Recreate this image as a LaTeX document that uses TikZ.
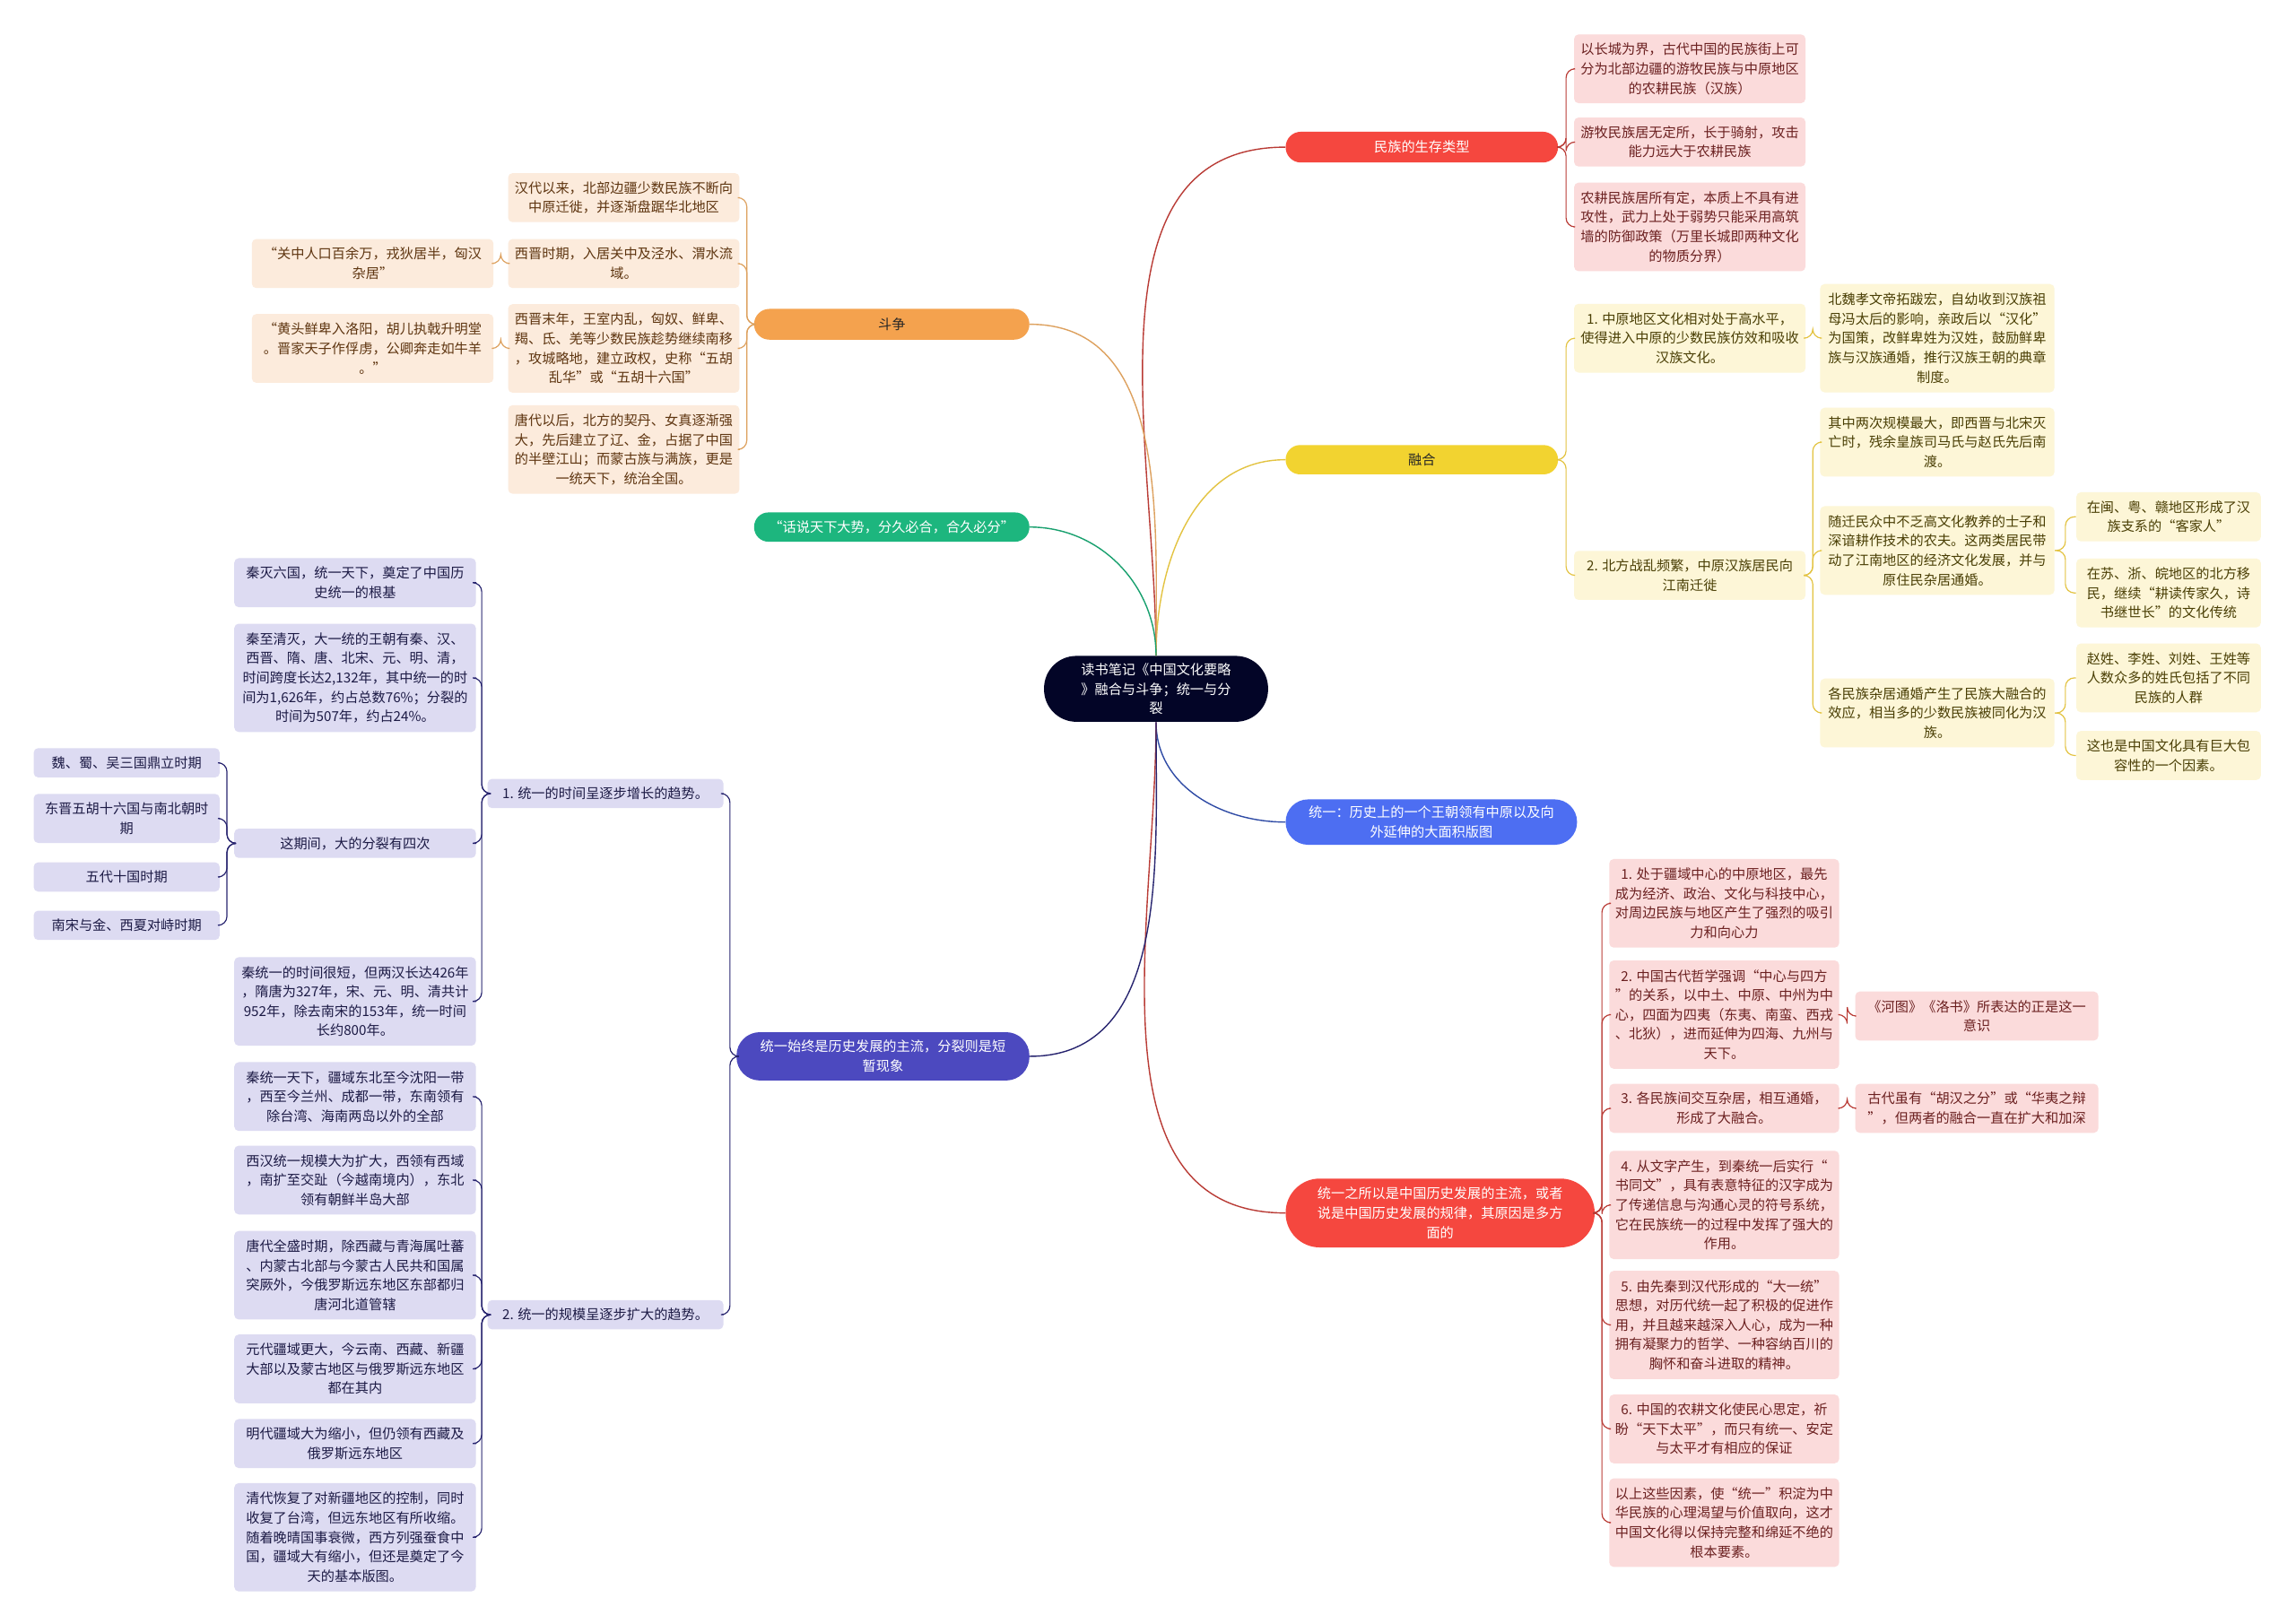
\documentclass[tikz,border=0pt]{standalone}
\usepackage{fontspec}
\setmainfont{Noto Sans CJK SC}
\usetikzlibrary{calc}
\definecolor{centralF}{HTML}{030527}
\definecolor{redM}{HTML}{F5473F}
\definecolor{redL}{HTML}{B93B35}
\definecolor{pinkF}{HTML}{FBDBDB}
\definecolor{pinkT}{HTML}{6B2020}
\definecolor{yelM}{HTML}{F2D330}
\definecolor{yelL}{HTML}{E3C341}
\definecolor{yelF}{HTML}{FDF6D7}
\definecolor{yelT}{HTML}{4A3F05}
\definecolor{orM}{HTML}{F4A24E}
\definecolor{orL}{HTML}{DDA15E}
\definecolor{orF}{HTML}{FCEBDC}
\definecolor{orT}{HTML}{5E3510}
\definecolor{grM}{HTML}{1DB67E}
\definecolor{grL}{HTML}{18A06E}
\definecolor{bluM}{HTML}{4D6EF2}
\definecolor{bluL}{HTML}{2F4BA5}
\definecolor{purM}{HTML}{4C49BF}
\definecolor{purL}{HTML}{27246F}
\definecolor{purF}{HTML}{DDDBF2}
\definecolor{purT}{HTML}{1C1A45}
% child box: style, name, x1, x2, cy, lines, text
\newcommand{\bx}[7]{\node[#1, minimum width={(#4-#3)*0.8163pt}, minimum height={(20+13.5*(#6-1))*0.8163pt}] (#2) at ({(#3+#4)/2},#5) {#7};}
% main node: style, name, x1, x2, y1, y2, corner radius, text
\newcommand{\mn}[8]{\node[#1, rounded corners=#7, minimum width={(#4-#3)*0.8163pt}, minimum height={(#6-#5)*0.8163pt}] (#2) at ({(#3+#4)/2},{(#5+#6)/2}) {#8};}
\newcommand{\linkR}[3]{\draw[sublink,#1] let \p1=(#2.east), \p2=(#3.west) in (\p1) -- ({(\x1+\x2)/2},\y1) |- (\p2);}
\newcommand{\linkL}[3]{\draw[sublink,#1] let \p1=(#2.west), \p2=(#3.east) in (\p1) -- ({(\x1+\x2)/2},\y1) |- (\p2);}
\begin{document}
\begin{tikzpicture}[x=0.8163pt,y=-0.8163pt,
  every node/.style={font=\fontsize{7.6}{10.8}\selectfont, align=center, inner sep=1.5pt},
  cbox/.style={rounded corners=2.5pt},
  pinkbox/.style={cbox, fill=pinkF, text=pinkT},
  yelbox/.style={cbox, fill=yelF, text=yelT},
  orbox/.style={cbox, fill=orF, text=orT},
  purbox/.style={cbox, fill=purF, text=purT},
  mainlink/.style={line width=0.7pt},
  sublink/.style={line width=0.6pt, rounded corners=5pt}]
\useasboundingbox (0,0) rectangle (1568,1109);
\fill[white] (0,0) rectangle (1568,1109);

% central
\mn{fill=centralF,text=white}{c}{713}{866}{448}{493}{18pt}{读书笔记《中国文化要略\\》融合与斗争；统一与分\\裂}

% main nodes
\mn{fill=redM,text=white}{r1}{878}{1064}{90}{111}{8.5pt}{民族的生存类型}
\mn{fill=yelM,text=black!85}{r2}{878}{1064}{304}{324}{8pt}{融合}
\mn{fill=bluM,text=white}{r3}{878}{1077}{546}{577}{12.5pt}{统一：历史上的一个王朝领有中原以及向\\外延伸的大面积版图}
\mn{fill=redM,text=white}{r4}{878}{1089}{805}{852}{19pt}{统一之所以是中国历史发展的主流，或者\\说是中国历史发展的规律，其原因是多方\\面的}
\mn{fill=orM,text=black!85}{l1}{515}{703}{211}{232}{8.5pt}{斗争}
\mn{fill=grM,text=white}{l2}{515}{703}{350}{370}{8pt}{“话说天下大势，分久必合，合久必分”}
\mn{fill=purM,text=white}{l3}{503}{703}{705}{738}{13pt}{统一始终是历史发展的主流，分裂则是短\\暂现象}

% r1 children
\bx{pinkbox}{r1a}{1075}{1233}{47}{3}{以长城为界，古代中国的民族街上可\\分为北部边疆的游牧民族与中原地区\\的农耕民族（汉族）}
\bx{pinkbox}{r1b}{1075}{1233}{97}{2}{游牧民族居无定所，长于骑射，攻击\\能力远大于农耕民族}
\bx{pinkbox}{r1c}{1075}{1233}{155}{4}{农耕民族居所有定，本质上不具有进\\攻性，武力上处于弱势只能采用高筑\\墙的防御政策（万里长城即两种文化\\的物质分界）}

% r2 children
\bx{yelbox}{r2a}{1075}{1233}{231}{3}{1. 中原地区文化相对处于高水平，\\使得进入中原的少数民族仿效和吸收\\汉族文化。}
\bx{yelbox}{r2b}{1075}{1233}{393}{2}{2. 北方战乱频繁，中原汉族居民向\\江南迁徙}
\bx{yelbox}{r2a1}{1243}{1403}{231}{5}{北魏孝文帝拓跋宏，自幼收到汉族祖\\母冯太后的影响，亲政后以“汉化”\\为国策，改鲜卑姓为汉姓，鼓励鲜卑\\族与汉族通婚，推行汉族王朝的典章\\制度。}
\bx{yelbox}{r2b1}{1243}{1403}{302}{3}{其中两次规模最大，即西晋与北宋灭\\亡时，残余皇族司马氏与赵氏先后南\\渡。}
\bx{yelbox}{r2b2}{1243}{1403}{376}{4}{随迁民众中不乏高文化教养的士子和\\深谙耕作技术的农夫。这两类居民带\\动了江南地区的经济文化发展，并与\\原住民杂居通婚。}
\bx{yelbox}{r2b3}{1243}{1403}{487}{3}{各民族杂居通婚产生了民族大融合的\\效应，相当多的少数民族被同化为汉\\族。}
\bx{yelbox}{r2b2a}{1418}{1544}{353}{2}{在闽、粤、赣地区形成了汉\\族支系的“客家人”}
\bx{yelbox}{r2b2b}{1418}{1544}{405}{3}{在苏、浙、皖地区的北方移\\民，继续“耕读传家久，诗\\书继世长”的文化传统}
\bx{yelbox}{r2b3a}{1418}{1544}{463}{3}{赵姓、李姓、刘姓、王姓等\\人数众多的姓氏包括了不同\\民族的人群}
\bx{yelbox}{r2b3b}{1418}{1544}{516}{2}{这也是中国文化具有巨大包\\容性的一个因素。}

% r4 children
\bx{pinkbox}{r4a}{1099}{1256}{617}{4}{1. 处于疆域中心的中原地区，最先\\成为经济、政治、文化与科技中心，\\对周边民族与地区产生了强烈的吸引\\力和向心力}
\bx{pinkbox}{r4b}{1099}{1256}{693}{5}{2. 中国古代哲学强调“中心与四方\\”的关系，以中土、中原、中州为中\\心，四面为四夷（东夷、南蛮、西戎\\、北狄），进而延伸为四海、九州与\\天下。}
\bx{pinkbox}{r4c}{1099}{1256}{757}{2}{3. 各民族间交互杂居，相互通婚，\\形成了大融合。}
\bx{pinkbox}{r4d}{1099}{1256}{823}{5}{4. 从文字产生，到秦统一后实行“\\书同文”，具有表意特征的汉字成为\\了传递信息与沟通心灵的符号系统，\\它在民族统一的过程中发挥了强大的\\作用。}
\bx{pinkbox}{r4e}{1099}{1256}{905}{5}{5. 由先秦到汉代形成的“大一统”\\思想，对历代统一起了积极的促进作\\用，并且越来越深入人心，成为一种\\拥有凝聚力的哲学、一种容纳百川的\\胸怀和奋斗进取的精神。}
\bx{pinkbox}{r4f}{1099}{1256}{976}{3}{6. 中国的农耕文化使民心思定，祈\\盼“天下太平”，而只有统一、安定\\与太平才有相应的保证}
\bx{pinkbox}{r4g}{1099}{1256}{1040}{4}{以上这些因素，使“统一”积淀为中\\华民族的心理渴望与价值取向，这才\\中国文化得以保持完整和绵延不绝的\\根本要素。}
\bx{pinkbox}{r4b1}{1267}{1433}{694}{2}{《河图》《洛书》所表达的正是这一\\意识}
\bx{pinkbox}{r4c1}{1267}{1433}{757}{2}{古代虽有“胡汉之分”或“华夷之辩\\”，但两者的融合一直在扩大和加深}

% l1 children
\bx{orbox}{l1a}{347}{505}{135}{2}{汉代以来，北部边疆少数民族不断向\\中原迁徙，并逐渐盘踞华北地区}
\bx{orbox}{l1b}{347}{505}{180}{2}{西晋时期，入居关中及泾水、渭水流\\域。}
\bx{orbox}{l1c}{347}{505}{238}{4}{西晋末年，王室内乱，匈奴、鲜卑、\\羯、氐、羌等少数民族趁势继续南移\\，攻城略地，建立政权，史称“五胡\\乱华”或“五胡十六国”}
\bx{orbox}{l1d}{347}{505}{307}{4}{唐代以后，北方的契丹、女真逐渐强\\大，先后建立了辽、金，占据了中国\\的半壁江山；而蒙古族与满族，更是\\一统天下，统治全国。}
\bx{orbox}{l1b1}{172}{337}{180}{2}{“关中人口百余万，戎狄居半，匈汉\\杂居”}
\bx{orbox}{l1c1}{172}{337}{238}{3}{“黄头鲜卑入洛阳，胡儿执戟升明堂\\。晋家天子作俘虏，公卿奔走如牛羊\\。”}

% l3 children
\bx{purbox}{l3a}{333}{494}{542}{1}{1. 统一的时间呈逐步增长的趋势。}
\bx{purbox}{l3b}{333}{494}{898}{1}{2. 统一的规模呈逐步扩大的趋势。}
\bx{purbox}{l3a1}{160}{325}{398}{2}{秦灭六国，统一天下，奠定了中国历\\史统一的根基}
\bx{purbox}{l3a2}{160}{325}{463}{5}{秦至清灭，大一统的王朝有秦、汉、\\西晋、隋、唐、北宋、元、明、清，\\时间跨度长达2,132年，其中统一的时\\间为1,626年，约占总数76\%；分裂的\\时间为507年，约占24\%。}
\bx{purbox}{l3a3}{160}{325}{576}{1}{这期间，大的分裂有四次}
\bx{purbox}{l3a4}{160}{325}{684}{4}{秦统一的时间很短，但两汉长达426年\\，隋唐为327年，宋、元、明、清共计\\952年，除去南宋的153年，统一时间\\长约800年。}
\bx{purbox}{w1}{23}{150}{521}{1}{魏、蜀、吴三国鼎立时期}
\bx{purbox}{w2}{23}{150}{559}{2}{东晋五胡十六国与南北朝时\\期}
\bx{purbox}{w3}{23}{150}{599}{1}{五代十国时期}
\bx{purbox}{w4}{23}{150}{632}{1}{南宋与金、西夏对峙时期}
\bx{purbox}{b1}{160}{325}{749}{3}{秦统一天下，疆域东北至今沈阳一带\\，西至今兰州、成都一带，东南领有\\除台湾、海南两岛以外的全部}
\bx{purbox}{b2}{160}{325}{806}{3}{西汉统一规模大为扩大，西领有西域\\，南扩至交趾（今越南境内），东北\\领有朝鲜半岛大部}
\bx{purbox}{b3}{160}{325}{871}{4}{唐代全盛时期，除西藏与青海属吐蕃\\、内蒙古北部与今蒙古人民共和国属\\突厥外，今俄罗斯远东地区东部都归\\唐河北道管辖}
\bx{purbox}{b4}{160}{325}{935}{3}{元代疆域更大，今云南、西藏、新疆\\大部以及蒙古地区与俄罗斯远东地区\\都在其内}
\bx{purbox}{b5}{160}{325}{986}{2}{明代疆域大为缩小，但仍领有西藏及\\俄罗斯远东地区}
\bx{purbox}{b6}{160}{325}{1050}{5}{清代恢复了对新疆地区的控制，同时\\收复了台湾，但远东地区有所收缩。\\随着晚晴国事衰微，西方列强蚕食中\\国，疆域大有缩小，但还是奠定了今\\天的基本版图。}

% central connectors
\draw[mainlink,redL] (c.north) to[out=90,in=180] (r1.west);
\draw[mainlink,yelL] (c.north) to[out=90,in=180] (r2.west);
\draw[mainlink,orL] (c.north) to[out=90,in=0] (l1.east);
\draw[mainlink,grL] (c.north) to[out=90,in=0] (l2.east);
\draw[mainlink,bluL] (c.south) to[out=270,in=180] (r3.west);
\draw[mainlink,redL] (c.south) to[out=270,in=180] (r4.west);
\draw[mainlink,purL] (c.south) to[out=270,in=0] (l3.east);

% sub connectors
\linkR{redL}{r1}{r1a}
\linkR{redL}{r1}{r1b}
\linkR{redL}{r1}{r1c}
\linkR{yelL}{r2}{r2a}
\linkR{yelL}{r2}{r2b}
\linkR{yelL}{r2a}{r2a1}
\linkR{yelL}{r2b}{r2b1}
\linkR{yelL}{r2b}{r2b2}
\linkR{yelL}{r2b}{r2b3}
\linkR{yelL}{r2b2}{r2b2a}
\linkR{yelL}{r2b2}{r2b2b}
\linkR{yelL}{r2b3}{r2b3a}
\linkR{yelL}{r2b3}{r2b3b}
\linkR{redL}{r4}{r4a}
\linkR{redL}{r4}{r4b}
\linkR{redL}{r4}{r4c}
\linkR{redL}{r4}{r4d}
\linkR{redL}{r4}{r4e}
\linkR{redL}{r4}{r4f}
\linkR{redL}{r4}{r4g}
\linkR{redL}{r4b}{r4b1}
\linkR{redL}{r4c}{r4c1}
\linkL{orL}{l1}{l1a}
\linkL{orL}{l1}{l1b}
\linkL{orL}{l1}{l1c}
\linkL{orL}{l1}{l1d}
\linkL{orL}{l1b}{l1b1}
\linkL{orL}{l1c}{l1c1}
\linkL{purL}{l3}{l3a}
\linkL{purL}{l3}{l3b}
\linkL{purL}{l3a}{l3a1}
\linkL{purL}{l3a}{l3a2}
\linkL{purL}{l3a}{l3a3}
\linkL{purL}{l3a}{l3a4}
\linkL{purL}{l3a3}{w1}
\linkL{purL}{l3a3}{w2}
\linkL{purL}{l3a3}{w3}
\linkL{purL}{l3a3}{w4}
\linkL{purL}{l3b}{b1}
\linkL{purL}{l3b}{b2}
\linkL{purL}{l3b}{b3}
\linkL{purL}{l3b}{b4}
\linkL{purL}{l3b}{b5}
\linkL{purL}{l3b}{b6}
\end{tikzpicture}
\end{document}
